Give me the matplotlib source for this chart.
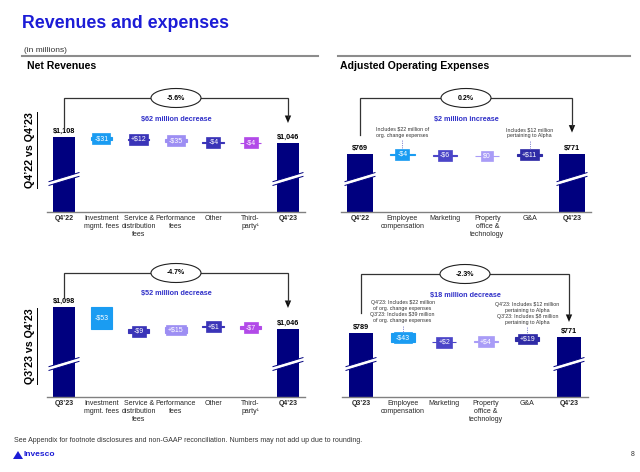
import matplotlib.pyplot as plt
from matplotlib.patches import Ellipse, Polygon

plt.rcParams['font.family'] = ['Liberation Sans', 'DejaVu Sans']

# ---- data (in $ millions) ----
rev_cats_yoy = ["Q4’22", "Investment\nmgmt. fees", "Service &\ndistribution\nfees",
                "Performance\nfees", "Other", "Third-\nparty¹", "Q4’23"]
rev_cats_qoq = ["Q3’23", "Investment\nmgmt. fees", "Service &\ndistribution\nfees",
                "Performance\nfees", "Other", "Third-\nparty¹", "Q4’23"]
rev_yoy_start, rev_yoy_end = 1108, 1046
rev_yoy_deltas = [-31, 12, -35, -4, -4]
rev_qoq_start, rev_qoq_end = 1098, 1046
rev_qoq_deltas = [-53, -9, 15, 1, -7]

exp_cats_yoy = ["Q4’22", "Employee\ncompensation", "Marketing",
                "Property\noffice &\ntechnology", "G&A", "Q4’23"]
exp_cats_qoq = ["Q3’23", "Employee\ncompensation", "Marketing",
                "Property\noffice &\ntechnology", "G&A", "Q4’23"]
exp_yoy_start, exp_yoy_end = 769, 771
exp_yoy_deltas = [-4, -6, 0, 11]
exp_qoq_start, exp_qoq_end = 789, 771
exp_qoq_deltas = [-43, 2, 4, 19]

pct_labels = ["-5.6%", "0.2%", "-4.7%", "-2.3%"]
change_labels = ["$62 million decrease", "$2 million increase",
                 "$52 million decrease", "$18 million decrease"]

note_yoy = ["Includes $22 million of\norg. change expenses",
            "Includes $12 million\npertaining to Alpha"]
note_qoq = ["Q4’23: Includes $22 million\nof org. change expenses\nQ3’23: Includes $39 million\nof org. change expenses",
            "Q4’23: Includes $12 million\npertaining to Alpha\nQ3’23: Includes $8 million\npertaining to Alpha"]

navy = '#00007f'
rev_colors = ['#1a9cf2', '#3a34b8', '#9d8ef3', '#3a34b8', '#b24ae8']
exp_colors = ['#1a9cf2', '#4b45c8', '#a99cf7', '#2f2ba6']
blue_txt = '#3030c8'

W, H = 640, 472
fig = plt.figure(figsize=(6.4, 4.72), dpi=100)
ov = fig.add_axes([0, 0, 1, 1], zorder=5)
ov.set_xlim(0, W)
ov.set_ylim(H, 0)
ov.axis('off')
ov.patch.set_alpha(0)


def money(d):
    if d == 0:
        return "$0"
    return ("+$" if d > 0 else "-$") + str(abs(d))


def waterfall(cats, start, deltas, end, colors, pct, change, x0, sp, baseline,
              start_top, k, conn_y, gap_l, gap_r, notes=None, note_off=0):
    n = len(cats)
    base = start - (baseline - start_top) / k
    l = x0 - 0.45 * sp
    r = x0 + (n - 1) * sp + 0.45 * sp
    h = 140
    ax = fig.add_axes([l / W, 1 - baseline / H, (r - l) / W, h / H])
    ax.set_xlim(-0.45, n - 1 + 0.45)
    ax.set_ylim(base, base + h / k)
    ax.patch.set_visible(False)
    for s in ['top', 'left', 'right']:
        ax.spines[s].set_visible(False)
    ax.spines['bottom'].set_color('#808080')
    ax.spines['bottom'].set_linewidth(1.0)
    ax.set_yticks([])
    ax.set_xticks(range(n), cats, fontsize=5, color='#262626')
    ax.tick_params(axis='x', length=0, pad=2.5)
    for t in (ax.get_xticklabels()[0], ax.get_xticklabels()[-1]):
        t.set_fontweight('bold')

    # end bars
    ax.bar([0, n - 1], [start, end], width=0.6, color=navy)
    for i, v in ((0, start), (n - 1, end)):
        ax.annotate(f"${v:,}", (i, v), xytext=(0, 1.5), textcoords='offset points',
                    ha='center', va='bottom', fontsize=5.2, fontweight='bold')

    # floating steps
    cum = start
    mids = []
    for j, d in enumerate(deltas):
        i = j + 1
        lo = min(cum, cum + d)
        ax.bar(i, abs(d), bottom=lo, width=0.58, color=colors[j],
               edgecolor=colors[j], linewidth=0.8)
        mid = cum + d / 2
        mids.append(mid)
        ax.text(i, mid, money(d), ha='center', va='center', fontsize=5,
                color='white', zorder=4,
                bbox=dict(boxstyle='square,pad=0.28', fc=colors[j], ec=colors[j], lw=0.5))
        cum += d

    def xp(i):
        return x0 + i * sp

    def yp(v):
        return baseline - (v - base) * k

    # break marks
    for i in (0, n - 1):
        xc, yb = xp(i), baseline - 33
        pts = [(xc - 15, yb + 6.4), (xc + 15, yb - 2.6), (xc + 15, yb - 6.4), (xc - 15, yb + 2.6)]
        ov.add_patch(Polygon(pts, closed=True, fc='white', ec='none'))
        ov.plot([xc - 15, xc + 15], [yb + 6.4, yb - 2.6], color=navy, lw=0.7)
        ov.plot([xc - 15, xc + 15], [yb + 2.6, yb - 6.4], color=navy, lw=0.7)

    # connector
    xl, xr = xp(0), xp(n - 1)
    ov.plot([xl, xl, xr, xr], [yp(start) - gap_l, conn_y, conn_y, yp(end) - gap_r - 6],
            color='#333333', lw=0.9, solid_joinstyle='miter', zorder=2)
    ov.add_patch(Polygon([(xr - 3.2, yp(end) - gap_r - 7.5), (xr + 3.2, yp(end) - gap_r - 7.5),
                          (xr, yp(end) - gap_r)], closed=True, fc='#111111', ec='none'))
    xm = (xl + xr) / 2
    ov.add_patch(Ellipse((xm, conn_y), 50, 19, fc='white', ec='#222222', lw=0.8, zorder=3))
    ov.text(xm, conn_y, pct, ha='center', va='center', fontsize=5, fontweight='bold', zorder=4)
    ov.text(xm, conn_y + 21, change, ha='center', va='center', fontsize=5.2,
            fontweight='bold', color=blue_txt)

    if notes:
        for i, txt in ((1, notes[0]), (n - 2, notes[1])):
            yb = yp(mids[i - 1])
            ty = yb - note_off
            nl = txt.count('\n') + 1
            ov.text(xp(i), ty, txt, ha='center', va='center', fontsize=3.8,
                    color='#333333', linespacing=1.25)
            ov.plot([xp(i), xp(i)], [ty + nl * 3.3 + 1, yb - 5], color='#8080d0',
                    lw=0.6, ls=(0, (1.5, 1.2)))


waterfall(rev_cats_yoy, rev_yoy_start, rev_yoy_deltas, rev_yoy_end, rev_colors,
          pct_labels[0], change_labels[0], 64, 37.33, 212, 137, 0.097, 98, 8, 20)
waterfall(exp_cats_yoy, exp_yoy_start, exp_yoy_deltas, exp_yoy_end, exp_colors,
          pct_labels[1], change_labels[1], 360, 42.4, 212, 154, 0.2, 98, 19, 21,
          note_yoy, 22)
waterfall(rev_cats_qoq, rev_qoq_start, rev_qoq_deltas, rev_qoq_end, rev_colors,
          pct_labels[2], change_labels[2], 64, 37.33, 397, 307, 0.423, 273, 9, 21)
waterfall(exp_cats_qoq, exp_qoq_start, exp_qoq_deltas, exp_qoq_end, exp_colors,
          pct_labels[3], change_labels[3], 361, 41.6, 397, 333, 0.22, 274, 20, 15,
          note_qoq, 26)

# header
ov.text(22, 23, "Revenues and expenses", fontsize=12.8, fontweight='bold',
        color='#1c1cd6', va='center')
ov.text(24, 50, "(in millions)", fontsize=6, color='#333333', va='center')
ov.plot([22, 318], [55.5, 55.5], color='#8c8c8c', lw=1.5)
ov.plot([338, 630], [55.5, 55.5], color='#8c8c8c', lw=1.5)
ov.text(27, 66, "Net Revenues", fontsize=7.6, fontweight='bold', va='center')
ov.text(340, 66, "Adjusted Operating Expenses", fontsize=7.6, fontweight='bold', va='center')

# side labels
for yc, txt in ((150, "Q4’22 vs Q4’23"), (346, "Q3’23 vs Q4’23")):
    ov.text(30, yc, txt, rotation=90, ha='center', va='center', fontsize=7.7,
            fontweight='bold')
    ov.plot([36.5, 36.5], [yc - 38, yc + 38], color='black', lw=0.7)

# footer
ov.text(14, 441, "See Appendix for footnote disclosures and non-GAAP reconciliation. "
        "Numbers may not add up due to rounding.", fontsize=5, color='#333333', va='center')
ov.add_patch(Polygon([(13, 459), (18, 451), (23, 459)], closed=True, fc='#1c1cd6', ec='none'))
ov.text(24, 455, "Invesco", fontsize=6, fontweight='bold', color='#1c1cd6', va='center')
ov.text(633, 455, "8", fontsize=5, color='#333333', va='center', ha='center')

fig.savefig('out.png', dpi=100)
